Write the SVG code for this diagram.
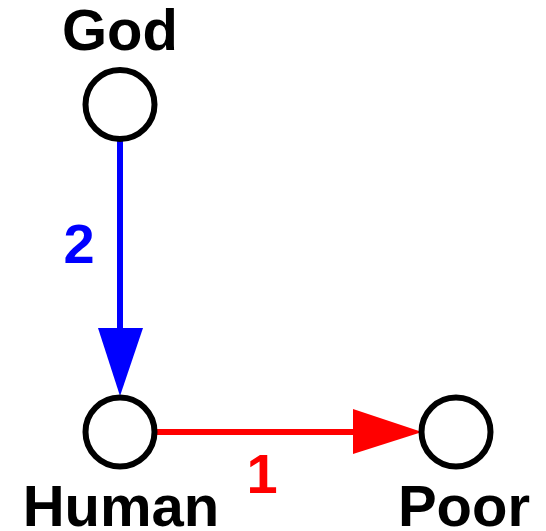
<svg xmlns="http://www.w3.org/2000/svg" width="546" height="531" viewBox="0 0 546 531">
<style>
.node{fill:#fff;stroke:#000;stroke-width:6}
.lbl{font-family:"Liberation Sans",Arial,sans-serif;font-weight:bold;font-size:58px;text-anchor:middle;fill:#000}
.num{font-family:"Liberation Sans",Arial,sans-serif;font-weight:bold;font-size:56px;text-anchor:middle}
</style>
<rect width="546" height="531" fill="#fff"/>
<g id="connectors">
<g id="edge-god-human">
<line x1="120" y1="141" x2="120" y2="330" stroke="#0000ff" stroke-width="6"/>
<polygon points="98,328 143,328 120,396" fill="#0000ff"/>
<text class="num" x="79" y="263" fill="#0000ff">2</text>
</g>
<g id="edge-human-poor">
<line x1="156" y1="432" x2="355" y2="432" stroke="#ff0000" stroke-width="6"/>
<polygon points="353,409 353,454 422,432" fill="#ff0000"/>
<text class="num" x="262" y="493" fill="#ff0000">1</text>
</g>
</g>
<g id="god">
<circle class="node" cx="120" cy="104.5" r="34.5"/>
<text class="lbl" x="120" y="50">God</text>
</g>
<g id="human">
<circle class="node" cx="120" cy="432" r="34.5"/>
<text class="lbl" x="121" y="526">Human</text>
</g>
<g id="poor">
<circle class="node" cx="456" cy="432" r="34.5"/>
<text class="lbl" x="464" y="526">Poor</text>
</g>
</svg>
